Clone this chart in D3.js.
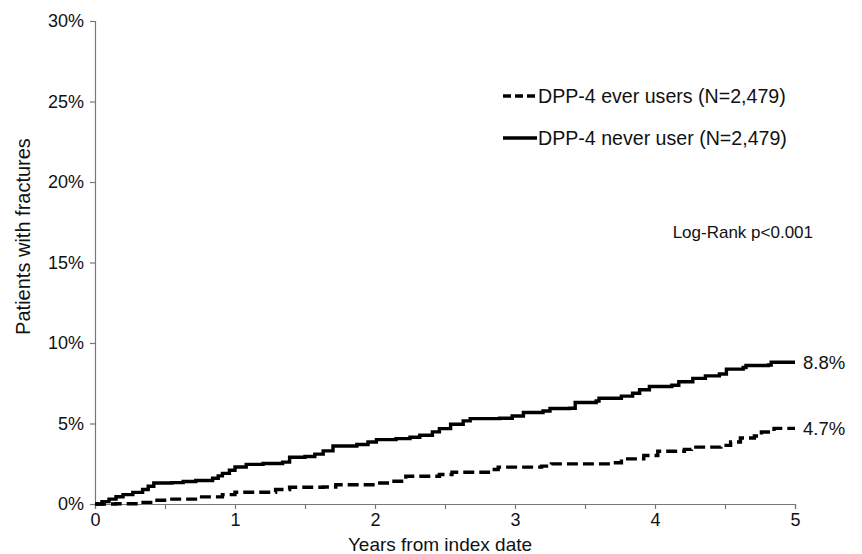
<!DOCTYPE html>
<html>
<head>
<meta charset="utf-8">
<script src="https://cdn.jsdelivr.net/npm/d3@7"></script>
<style>
  body { margin: 0; background: #fff; }
  text { font-family: Arial, "Liberation Sans", sans-serif; fill: #111; }
</style>
</head>
<body>
<div id="chart"></div>
<script>
// step curves: [years, % with fractures]
const neverUsers = [
  [0, 0], [0.05, 0.15], [0.1, 0.3], [0.15, 0.45], [0.2, 0.58], [0.27, 0.72], [0.34, 0.9],
  [0.38, 1.1], [0.42, 1.3], [0.55, 1.33], [0.63, 1.4], [0.72, 1.46], [0.84, 1.6],
  [0.88, 1.75], [0.91, 1.9], [0.96, 2.1], [1.0, 2.3], [1.08, 2.46], [1.2, 2.52],
  [1.34, 2.6], [1.39, 2.9], [1.5, 2.95], [1.57, 3.1], [1.63, 3.3], [1.7, 3.6],
  [1.87, 3.7], [1.95, 3.85], [2.01, 4.0], [2.15, 4.06], [2.25, 4.15], [2.32, 4.27],
  [2.41, 4.48], [2.46, 4.68], [2.54, 4.95], [2.63, 5.16], [2.68, 5.3], [2.89, 5.33],
  [2.98, 5.47], [3.06, 5.68], [3.2, 5.78], [3.25, 5.93], [3.39, 5.95], [3.43, 6.3],
  [3.58, 6.4], [3.6, 6.57], [3.76, 6.7], [3.84, 6.88], [3.89, 7.1], [3.96, 7.3],
  [4.12, 7.38], [4.17, 7.59], [4.27, 7.8], [4.36, 7.96], [4.46, 8.07], [4.51, 8.38],
  [4.63, 8.48], [4.65, 8.6], [4.81, 8.63], [4.83, 8.8], [5.0, 8.8]
];
const everUsers = [
  [0, 0], [0.15, 0.02], [0.31, 0.1], [0.43, 0.23], [0.53, 0.3], [0.74, 0.44],
  [0.91, 0.58], [1.0, 0.73], [1.29, 0.9], [1.39, 1.04], [1.63, 1.06], [1.72, 1.2],
  [2.01, 1.3], [2.11, 1.41], [2.22, 1.72], [2.46, 1.83], [2.55, 1.97], [2.81, 2.14],
  [2.88, 2.29], [3.19, 2.35], [3.26, 2.49], [3.69, 2.56], [3.76, 2.8], [3.92, 3.01],
  [4.02, 3.28], [4.21, 3.39], [4.26, 3.53], [4.47, 3.64], [4.54, 3.85], [4.61, 4.1],
  [4.71, 4.22], [4.76, 4.47], [4.85, 4.7], [5.0, 4.7]
];
const xTicks = [0, 1, 2, 3, 4, 5];
const xMinorTicks = [0.5, 1.5, 2.5, 3.5, 4.5];
const yTicks = [0, 5, 10, 15, 20, 25, 30];
const legendLabels = ['DPP-4 ever users (N=2,479)', 'DPP-4 never user (N=2,479)'];
const endLabels = ['4.7%', '8.8%'];

const width = 862, height = 554;
const margin = { top: 21, right: 67, bottom: 50, left: 95 };

const svg = d3.select('#chart').append('svg')
  .attr('width', width)
  .attr('height', height);

const x = d3.scaleLinear().domain([0, 5]).range([margin.left, width - margin.right]);
const y = d3.scaleLinear().domain([0, 30]).range([height - margin.bottom, margin.top]);

// axes
svg.append('g')
  .attr('transform', `translate(0,${y(0)})`)
  .call(d3.axisBottom(x).tickValues(xTicks).tickFormat(d3.format('d')).tickSize(5).tickPadding(4));
svg.append('g')
  .attr('transform', `translate(0,${y(0)})`)
  .call(d3.axisBottom(x).tickValues(xMinorTicks).tickFormat('').tickSize(5))
  .select('.domain').remove();
svg.append('g')
  .attr('transform', `translate(${x(0)},0)`)
  .call(d3.axisLeft(y).tickValues(yTicks).tickFormat(d => d + '%').tickSize(5).tickPadding(6));

svg.selectAll('.domain, .tick line').attr('stroke', '#777').attr('stroke-width', 1.2);
svg.selectAll('.tick text').style('font-size', '18px').attr('fill', '#111');

// curves
const line = d3.line()
  .x(d => x(d[0]))
  .y(d => y(d[1]))
  .curve(d3.curveStepAfter);

svg.append('path')
  .datum(everUsers)
  .attr('d', line)
  .attr('fill', 'none')
  .attr('stroke', '#000')
  .attr('stroke-width', 3.4)
  .attr('stroke-dasharray', '11,5');

svg.append('path')
  .datum(neverUsers)
  .attr('d', line)
  .attr('fill', 'none')
  .attr('stroke', '#000')
  .attr('stroke-width', 3.4);

// end value labels
const lastVals = [everUsers[everUsers.length - 1], neverUsers[neverUsers.length - 1]];
svg.selectAll('.endlabel')
  .data(lastVals)
  .enter().append('text')
  .attr('class', 'endlabel')
  .attr('x', x(5) + 8)
  .attr('y', d => y(d[1]))
  .attr('dy', '0.35em')
  .style('font-size', '18.5px')
  .text((d, i) => endLabels[i]);

// legend
const legend = svg.append('g');
legendLabels.forEach((lab, i) => {
  const ly = 96 + i * 42;
  legend.append('line')
    .attr('x1', 503).attr('x2', 537)
    .attr('y1', ly).attr('y2', ly)
    .attr('stroke', '#000')
    .attr('stroke-width', 3.4)
    .attr('stroke-dasharray', i === 0 ? '8,4' : null);
  legend.append('text')
    .attr('x', 538)
    .attr('y', ly)
    .attr('dy', '0.35em')
    .style('font-size', '19.6px')
    .text(lab);
});

svg.append('text')
  .attr('x', 813)
  .attr('y', 232)
  .attr('dy', '0.35em')
  .attr('text-anchor', 'end')
  .style('font-size', '17px')
  .text('Log-Rank p<0.001');

// axis titles
svg.append('text')
  .attr('x', 440)
  .attr('y', 551)
  .attr('text-anchor', 'middle')
  .style('font-size', '19px')
  .text('Years from index date');

svg.append('text')
  .attr('transform', `translate(30,${(y(0) + y(30)) / 2 - 26}) rotate(-90)`)
  .attr('text-anchor', 'middle')
  .style('font-size', '20px')
  .text('Patients with fractures');
</script>
</body>
</html>
